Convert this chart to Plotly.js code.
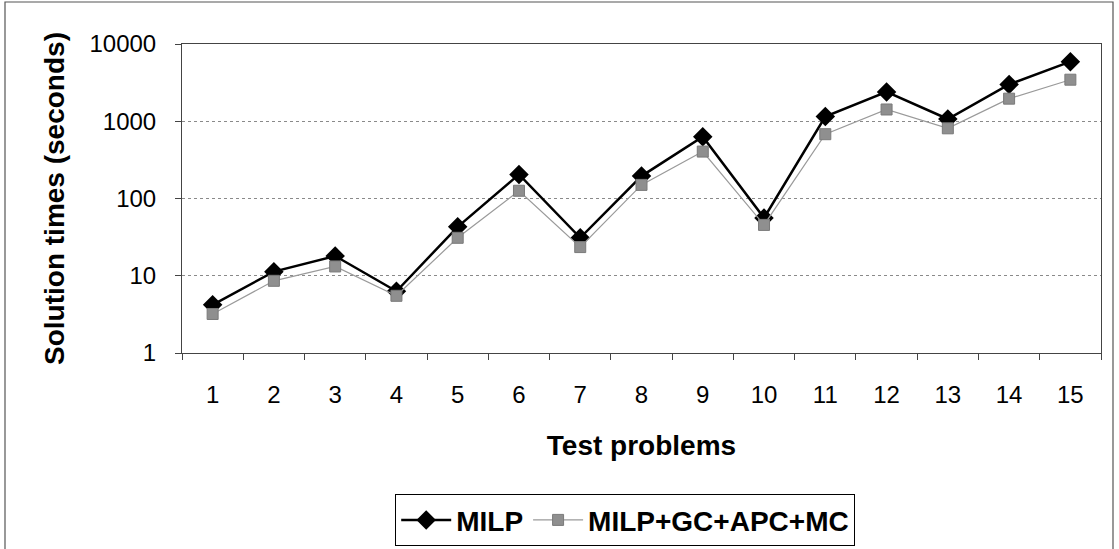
<!DOCTYPE html>
<html>
<head>
<meta charset="utf-8">
<script src="https://cdn.plot.ly/plotly-3.0.1.min.js"></script>
<style>
  html, body { margin: 0; padding: 0; background: #fff; }
  #chart { width: 1119px; height: 549px; }
</style>
</head>
<body>
<div id="chart"></div>
<script>
// Test problem labels
const problems = ['1','2','3','4','5','6','7','8','9','10','11','12','13','14','15'];

// Solution times in seconds
const milp = [4.2, 11.3, 18, 6.3, 43, 205, 31, 195, 630, 56, 1150, 2400, 1070, 3000, 5900];
const milpGcApcMc = [3.2, 8.6, 13.2, 5.5, 31, 126, 23.5, 150, 405, 45.5, 680, 1420, 810, 1960, 3450];

const seriesNames = ['MILP', 'MILP+GC+APC+MC'];
const yTicks = [1, 10, 100, 1000, 10000];

const W = 1119, H = 549;
const M = { l: 182, r: 18, t: 44, b: 196 };
const pw = W - M.l - M.r, ph = H - M.t - M.b;
// pixel -> paper helpers for the outer frame
const px = x => (x - M.l) / pw;
const py = y => (H - M.b - y) / ph;

const font = 'Arial, "Liberation Sans", sans-serif';

const traces = [
  {
    x: problems, y: milp, name: seriesNames[0], type: 'scatter', mode: 'lines+markers',
    line: { color: '#000', width: 2.5 },
    marker: { symbol: 'diamond', size: 15, color: '#000' }
  },
  {
    x: problems, y: milpGcApcMc, name: seriesNames[1], type: 'scatter', mode: 'lines+markers',
    line: { color: '#9a9a9a', width: 1.2 },
    marker: { symbol: 'square', size: 11, color: '#8f8f8f', line: { color: '#7a7a7a', width: 1 } }
  }
];

const layout = {
  width: W, height: H,
  margin: M,
  paper_bgcolor: '#fff', plot_bgcolor: '#fff',
  font: { family: font, size: 24, color: '#000' },
  showlegend: true,
  legend: {
    orientation: 'h',
    xref: 'container', yref: 'container',
    x: 625 / W, xanchor: 'center', y: 1 - 494 / H, yanchor: 'top',
    bordercolor: '#000', borderwidth: 1.2, bgcolor: '#fff',
    font: { family: font, size: 28, color: '#000', weight: 'bold' },
    itemwidth: 50, tracegroupgap: 0
  },
  xaxis: {
    type: 'category', tickson: 'boundaries',
    showgrid: false, showline: true, linecolor: '#444', linewidth: 1, mirror: true,
    ticks: 'outside', ticklen: 6, tickcolor: '#444',
    tickfont: { size: 24 }, ticklabelstandoff: 20,
    range: [-0.5, 14.5],
    title: { text: 'Test problems', font: { size: 28, weight: 'bold' }, standoff: 28 }
  },
  yaxis: {
    type: 'log', range: [0, 4],
    tickvals: yTicks, ticktext: yTicks.map(String),
    showgrid: true, gridcolor: '#8a8a8a', gridwidth: 1, griddash: 'dot',
    showline: true, linecolor: '#444', linewidth: 1, mirror: true,
    ticks: 'outside', ticklen: 6, tickcolor: '#444',
    tickfont: { size: 24 }, ticklabelstandoff: 14,
    zeroline: false,
    title: { text: 'Solution times (seconds)', font: { size: 28, weight: 'bold' }, standoff: 16 }
  },
  shapes: [
    {
      type: 'rect', xref: 'paper', yref: 'paper',
      x0: px(5), x1: px(1113), y0: py(560), y1: py(2),
      line: { color: '#555', width: 1.2 }, fillcolor: 'rgba(0,0,0,0)', layer: 'below'
    }
  ]
};

Plotly.newPlot('chart', traces, layout, { displayModeBar: false, staticPlot: true });
</script>
</body>
</html>
